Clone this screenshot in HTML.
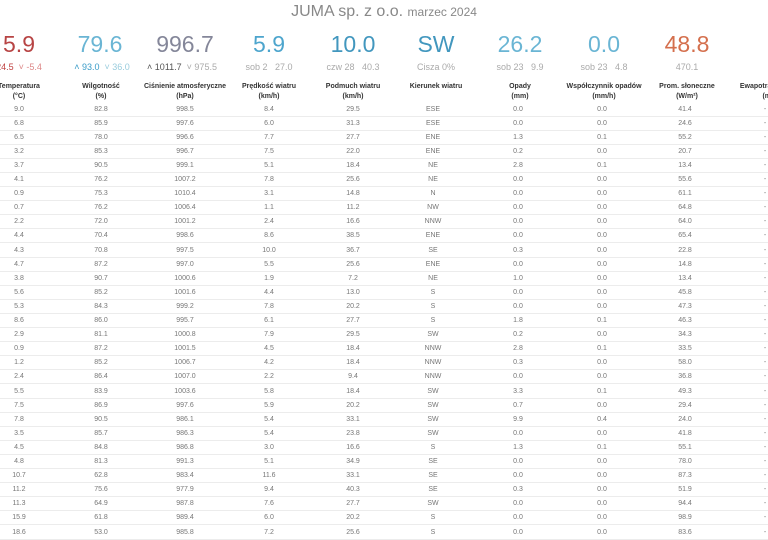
<!DOCTYPE html>
<html><head><meta charset="utf-8"><style>
body{margin:0;width:768px;height:540px;overflow:hidden;background:#fff;font-family:"Liberation Sans",sans-serif;position:relative}
.a{position:absolute;white-space:nowrap;transform:translateX(-50%);text-align:center}
.t{top:3px;left:384px;font-size:16px;color:#888}
.big{top:31px;font-size:23px;font-weight:300;opacity:.9}
.sub{top:62px;font-size:9px;color:#aaa}
.h{top:82px;font-size:7px;color:#333;line-height:10px;font-weight:bold}
.row{position:absolute;left:0;width:768px;height:14.1px;border-bottom:1px solid #ececec;box-sizing:border-box}
.row span{position:absolute;transform:translateX(-50%);font-size:7px;color:#777;top:3px}
</style></head><body>
<div class="a t">JUMA sp. z o.o. <span style="font-size:12px">marzec 2024</span></div>
<div class="a big" style="left:19px;color:#b03030">5.9</div>
<div class="a big" style="left:100px;color:#5aaed0">79.6</div>
<div class="a big" style="left:185px;color:#777a8e">996.7</div>
<div class="a big" style="left:269px;color:#3a9cc8">5.9</div>
<div class="a big" style="left:353px;color:#2e8cb8">10.0</div>
<div class="a big" style="left:436px;color:#2e8cb8">SW</div>
<div class="a big" style="left:520px;color:#5aaed0">26.2</div>
<div class="a big" style="left:604px;color:#5aaed0">0.0</div>
<div class="a big" style="left:687px;color:#d0603a">48.8</div>
<div class="a sub" style="left:19px;color:#c04040">24.5 &nbsp;<span style="color:#d88">˅ -5.4</span></div>
<div class="a sub" style="left:102px;color:#3a9cc8">˄ 93.0 &nbsp;<span style="color:#9cd">˅ 36.0</span></div>
<div class="a sub" style="left:182px;color:#555">˄ 1011.7 &nbsp;<span style="color:#aaa">˅ 975.5</span></div>
<div class="a sub" style="left:269px">sob 2 &nbsp; 27.0</div>
<div class="a sub" style="left:353px">czw 28 &nbsp; 40.3</div>
<div class="a sub" style="left:436px">Cisza 0%</div>
<div class="a sub" style="left:520px">sob 23 &nbsp; 9.9</div>
<div class="a sub" style="left:604px">sob 23 &nbsp; 4.8</div>
<div class="a sub" style="left:687px">470.1</div>
<div class="a h" style="left:19px">Temperatura<br>(°C)</div>
<div class="a h" style="left:101px">Wilgotność<br>(%)</div>
<div class="a h" style="left:185px">Ciśnienie atmosferyczne<br>(hPa)</div>
<div class="a h" style="left:269px">Prędkość wiatru<br>(km/h)</div>
<div class="a h" style="left:353px">Podmuch wiatru<br>(km/h)</div>
<div class="a h" style="left:436px">Kierunek wiatru<br>&nbsp;</div>
<div class="a h" style="left:520px">Opady<br>(mm)</div>
<div class="a h" style="left:604px">Współczynnik opadów<br>(mm/h)</div>
<div class="a h" style="left:687px">Prom. słoneczne<br>(W/m²)</div>
<div class="a h" style="left:771px">Ewapotranspiracja<br>(mm)</div>
<div id="rows"></div>
<script>
var d=`9.0 82.8 998.5 8.4 29.5 ESE 0.0 0.0 41.4
6.8 85.9 997.6 6.0 31.3 ESE 0.0 0.0 24.6
6.5 78.0 996.6 7.7 27.7 ENE 1.3 0.1 55.2
3.2 85.3 996.7 7.5 22.0 ENE 0.2 0.0 20.7
3.7 90.5 999.1 5.1 18.4 NE 2.8 0.1 13.4
4.1 76.2 1007.2 7.8 25.6 NE 0.0 0.0 55.6
0.9 75.3 1010.4 3.1 14.8 N 0.0 0.0 61.1
0.7 76.2 1006.4 1.1 11.2 NW 0.0 0.0 64.8
2.2 72.0 1001.2 2.4 16.6 NNW 0.0 0.0 64.0
4.4 70.4 998.6 8.6 38.5 ENE 0.0 0.0 65.4
4.3 70.8 997.5 10.0 36.7 SE 0.3 0.0 22.8
4.7 87.2 997.0 5.5 25.6 ENE 0.0 0.0 14.8
3.8 90.7 1000.6 1.9 7.2 NE 1.0 0.0 13.4
5.6 85.2 1001.6 4.4 13.0 S 0.0 0.0 45.8
5.3 84.3 999.2 7.8 20.2 S 0.0 0.0 47.3
8.6 86.0 995.7 6.1 27.7 S 1.8 0.1 46.3
2.9 81.1 1000.8 7.9 29.5 SW 0.2 0.0 34.3
0.9 87.2 1001.5 4.5 18.4 NNW 2.8 0.1 33.5
1.2 85.2 1006.7 4.2 18.4 NNW 0.3 0.0 58.0
2.4 86.4 1007.0 2.2 9.4 NNW 0.0 0.0 36.8
5.5 83.9 1003.6 5.8 18.4 SW 3.3 0.1 49.3
7.5 86.9 997.6 5.9 20.2 SW 0.7 0.0 29.4
7.8 90.5 986.1 5.4 33.1 SW 9.9 0.4 24.0
3.5 85.7 986.3 5.4 23.8 SW 0.0 0.0 41.8
4.5 84.8 986.8 3.0 16.6 S 1.3 0.1 55.1
4.8 81.3 991.3 5.1 34.9 SE 0.0 0.0 78.0
10.7 62.8 983.4 11.6 33.1 SE 0.0 0.0 87.3
11.2 75.6 977.9 9.4 40.3 SE 0.3 0.0 51.9
11.3 64.9 987.8 7.6 27.7 SW 0.0 0.0 94.4
15.9 61.8 989.4 6.0 20.2 S 0.0 0.0 98.9
18.6 53.0 985.8 7.2 25.6 S 0.0 0.0 83.6`.split("\n");
var xs=[19,101,185,269,353,433,518,602,685,765],h="";
d.forEach(function(l,i){var v=l.split(" ");v.push("-");h+='<div class="row" style="top:'+(102.5+i*14.1)+'px">';
v.forEach(function(s,j){h+='<span style="left:'+xs[j]+'px">'+s+'</span>'});h+='</div>'});
document.getElementById("rows").innerHTML=h;
</script>
</body></html>
